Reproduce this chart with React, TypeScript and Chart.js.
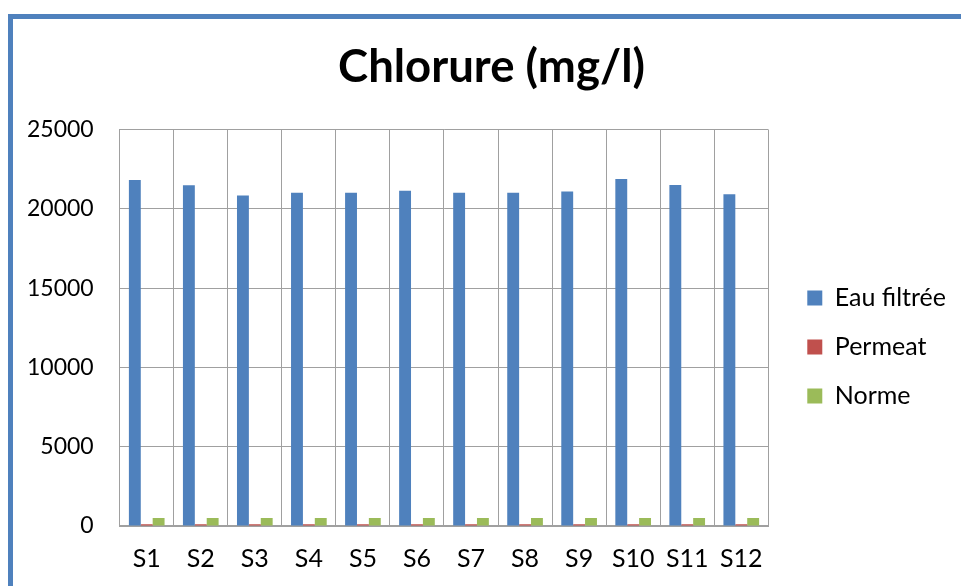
import React, { useEffect, useRef } from "react";
import { Chart, registerables } from "chart.js";

Chart.register(...registerables);

const categories = ["S1", "S2", "S3", "S4", "S5", "S6", "S7", "S8", "S9", "S10", "S11", "S12"];
const eauFiltree = [21820, 21490, 20840, 21010, 21010, 21150, 21010, 21010, 21090, 21890, 21510, 20920];
const permeat = [110, 110, 110, 110, 110, 110, 110, 110, 110, 110, 110, 110];
const norme = [500, 500, 500, 500, 500, 500, 500, 500, 500, 500, 500, 500];
const seriesNames = ["Eau filtrée", "Permeat", "Norme"];
const titleText = "Chlorure (mg/l)";
const yMin = 0;
const yMax = 25000;
const yStep = 5000;

// lets the legend grow past Chart.js's default half-width cap for side boxes
const legendWidthPlugin = {
  id: "legendWidthFix",
  beforeLayout(chart: any) {
    const lg = chart.legend;
    if (!lg || lg.__patched) return;
    const orig = lg.fit.bind(lg);
    lg.fit = function () {
      orig();
      if (this.columnSizes && this.columnSizes.length) {
        const pad = this.options.labels.padding;
        this.width = pad + this.columnSizes[0].width + 10;
      }
    };
    lg.__patched = true;
  },
};

export default function App() {
  const ref = useRef<HTMLCanvasElement | null>(null);

  useEffect(() => {
    document.body.style.overflow = "hidden";
    const canvas = ref.current;
    if (!canvas) return;
    const font = "Lato, 'Open Sans', sans-serif";
    const yPad = 26;
    const chart = new Chart(canvas, {
      type: "bar",
      data: {
        labels: categories,
        datasets: [
          { label: seriesNames[0], data: eauFiltree, backgroundColor: "#4F81BD", yAxisID: "y" },
          { label: seriesNames[1], data: permeat, backgroundColor: "#C0504D", yAxisID: "y" },
          { label: seriesNames[2], data: norme, backgroundColor: "#9BBB59", yAxisID: "y" },
        ],
      },
      plugins: [legendWidthPlugin],
      options: {
        responsive: false,
        animation: false,
        layout: { padding: { left: 14, right: 5, top: 0, bottom: -6 } },
        datasets: { bar: { categoryPercentage: 0.66, barPercentage: 1.0 } },
        plugins: {
          title: {
            display: true,
            text: titleText,
            color: "#000",
            font: { family: font, size: 45.5, weight: "bold" },
            padding: { top: 21, bottom: 35 },
          },
          legend: {
            position: "right",
            title: {
              display: true,
              text: " ",
              font: { family: font, size: 10 },
              padding: { top: 71, bottom: 0 },
            },
            labels: {
              color: "#000",
              font: { family: font, size: 25 },
              boxWidth: 15,
              boxHeight: 15,
              padding: 24,
            },
          },
          tooltip: { enabled: false },
        },
        scales: {
          x: {
            offset: true,
            grid: { display: true, offset: true, color: "#a0a0a0", lineWidth: 1, drawTicks: false },
            border: { display: true, color: "#a0a0a0", width: 2 },
            ticks: { color: "#000", font: { family: font, size: 25 }, padding: 18, maxRotation: 0 },
          },
          y: {
            min: yMin,
            max: yMax,
            grid: { color: "#a0a0a0", lineWidth: 1, drawTicks: false },
            border: { display: true, color: "#a0a0a0", width: 1 },
            ticks: {
              stepSize: yStep,
              color: "#000",
              font: { family: font, size: 23 },
              padding: yPad,
              callback: (v: any) => String(v),
            },
            afterFit: (s: any) => {
              s.width = s.width - yPad;
            },
          },
          y2: {
            position: "right",
            display: true,
            grid: { display: false },
            border: { display: false },
            ticks: { display: false },
            afterFit: (s: any) => {
              s.width = 15;
            },
          },
        },
      },
    });
    return () => chart.destroy();
  }, []);

  return (
    <div
      style={{
        position: "absolute",
        left: 8,
        top: 14,
        borderTop: "5px solid #4F81BD",
        borderLeft: "5px solid #4F81BD",
        width: 948,
        height: 567,
        background: "#fff",
      }}
    >
      <canvas ref={ref} width={948} height={567} style={{ display: "block" }} />
    </div>
  );
}
